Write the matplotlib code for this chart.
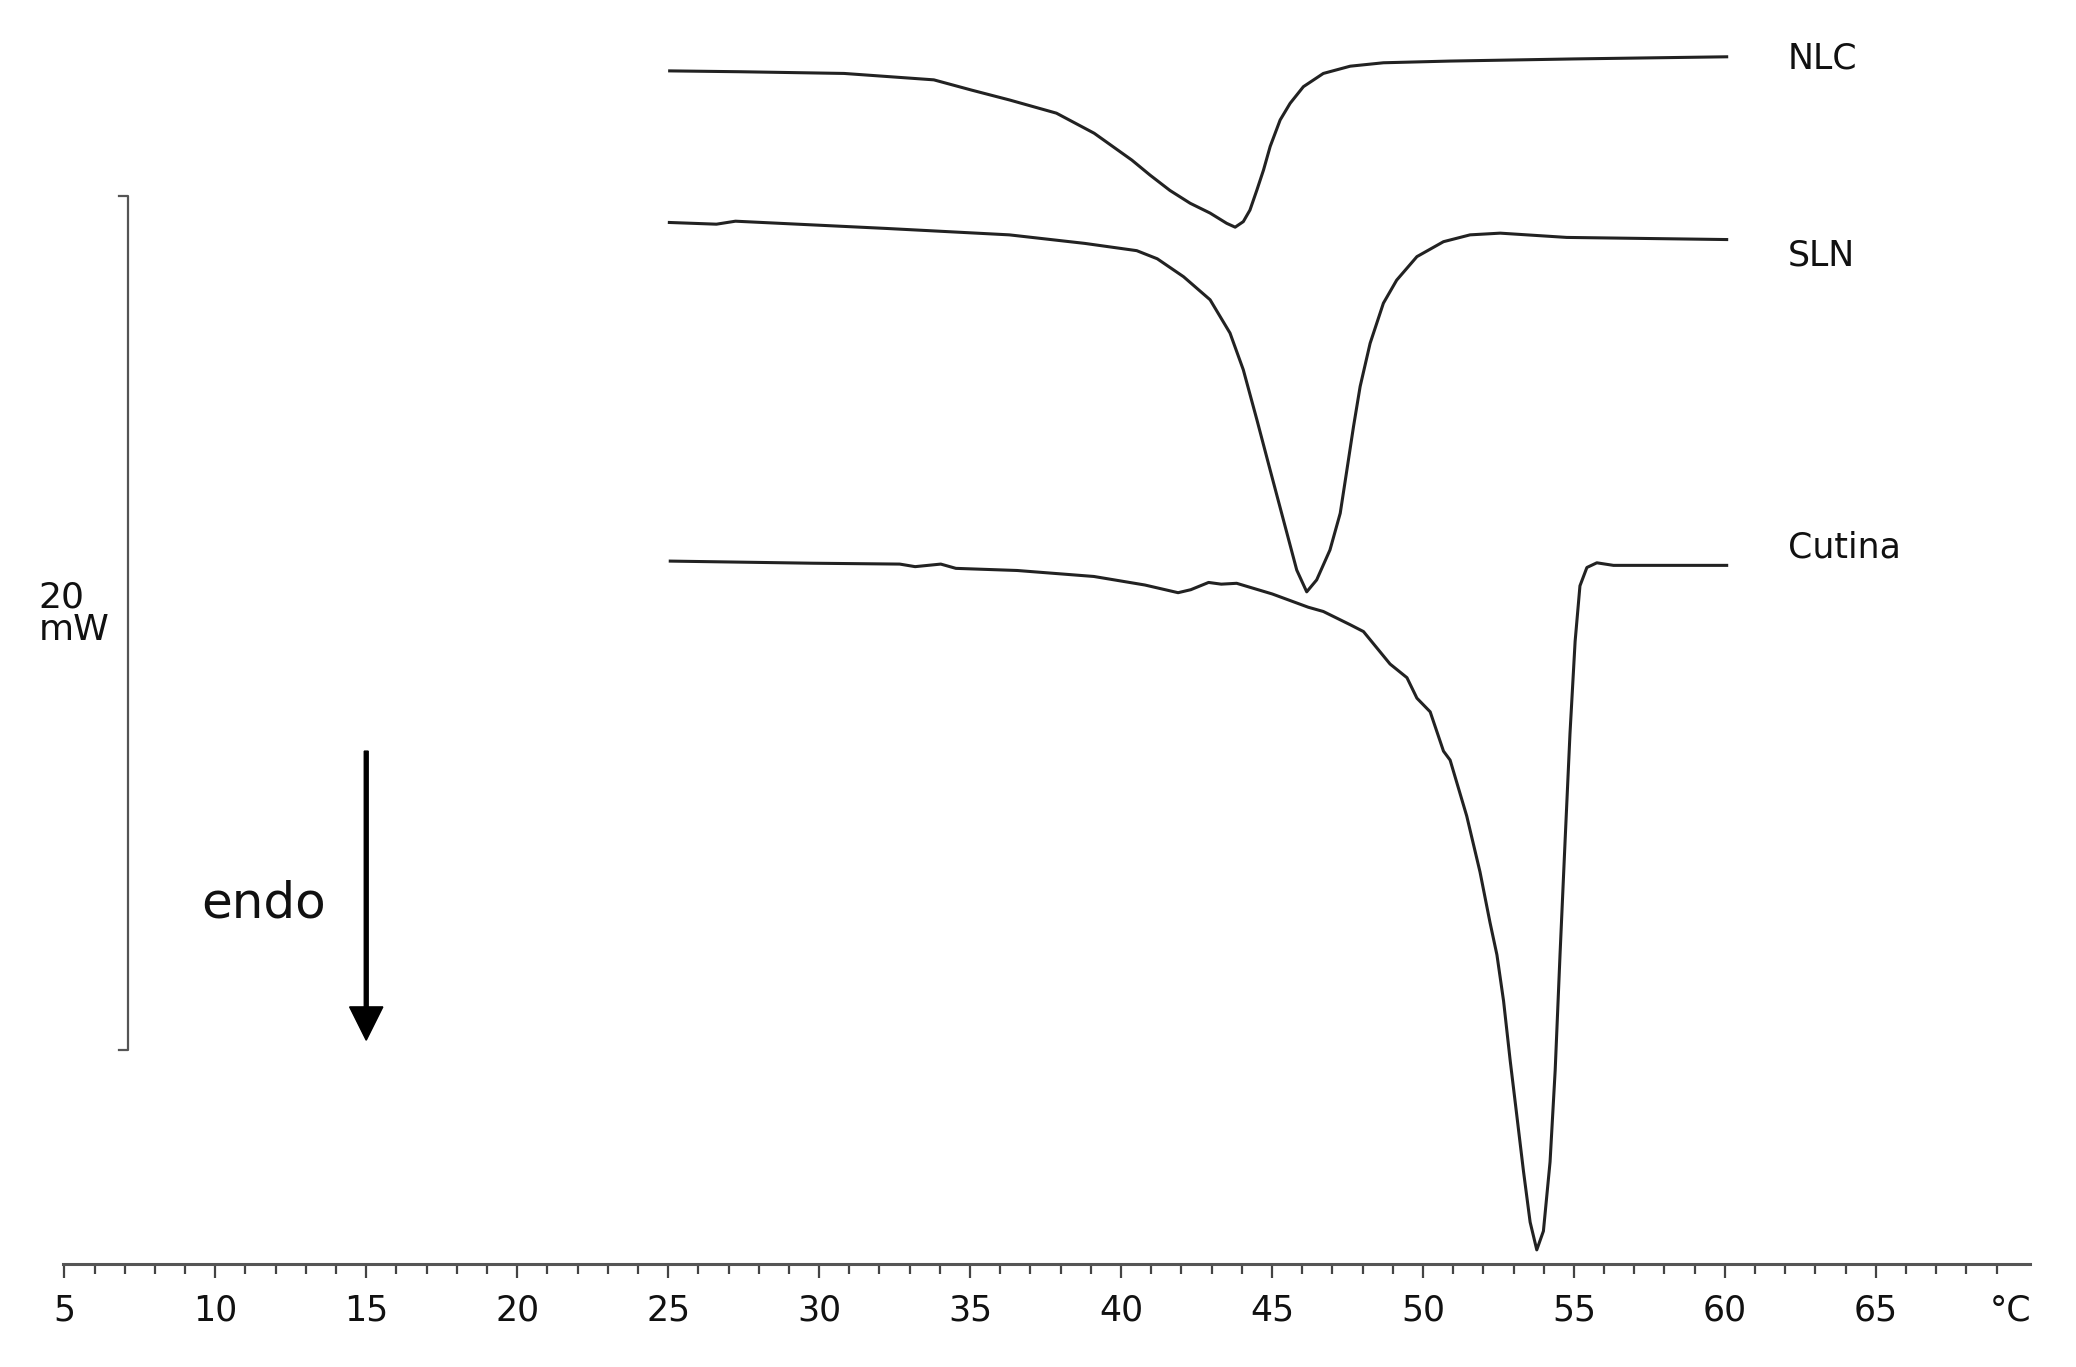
import numpy as np
import matplotlib.pyplot as plt

# DSC thermograms, x in degC, y in mW (arbitrary offset, 20 mW scale bar)
nlc_t = [25.05, 27.39, 30.83, 33.80, 35.05, 36.30, 37.86, 39.11, 40.36, 40.96, 41.62,
         42.29, 42.95, 43.50, 43.78, 44.05, 44.27, 44.50, 44.72, 44.94, 45.27, 45.60,
         46.04, 46.70, 47.59, 48.69, 50.90, 55.0, 60.06]
nlc_mw = [27.95, 27.93, 27.89, 27.74, 27.50, 27.27, 26.96, 26.49, 25.86, 25.51, 25.15,
          24.85, 24.62, 24.38, 24.29, 24.42, 24.69, 25.16, 25.63, 26.18, 26.80, 27.19,
          27.58, 27.89, 28.06, 28.14, 28.18, 28.23, 28.28]

sln_t = [25.04, 26.60, 27.23, 32.23, 36.30, 38.80, 40.52, 41.20, 42.07, 42.95, 43.61,
         44.05, 44.50, 44.94, 45.38, 45.82, 46.15, 46.48, 46.92, 47.26, 47.48, 47.70,
         47.92, 48.25, 48.69, 49.13, 49.80, 50.68, 51.56, 52.56, 54.76, 60.06]
sln_mw = [24.40, 24.36, 24.43, 24.26, 24.11, 23.91, 23.74, 23.55, 23.13, 22.59, 21.81,
          20.95, 19.78, 18.60, 17.43, 16.26, 15.75, 16.03, 16.73, 17.59, 18.60, 19.62,
          20.56, 21.57, 22.51, 23.05, 23.60, 23.95, 24.11, 24.15, 24.05, 24.00]

cut_t = [25.07, 29.80, 32.67, 33.18, 34.03, 34.53, 36.56, 39.10, 40.79, 41.89, 42.31,
         42.90, 43.32, 43.83, 45.01, 46.20, 46.70, 47.59, 48.03, 48.91, 49.47, 49.80,
         50.24, 50.68, 50.90, 51.45, 51.89, 52.22, 52.45, 52.67, 52.89, 53.11, 53.33,
         53.55, 53.77, 53.99, 54.21, 54.38, 54.54, 54.71, 54.87, 55.04, 55.20, 55.43,
         55.76, 56.31, 57.52, 60.06]
cut_mw = [16.47, 16.42, 16.40, 16.34, 16.40, 16.30, 16.25, 16.11, 15.91, 15.73, 15.80,
          15.97, 15.93, 15.95, 15.70, 15.39, 15.29, 14.98, 14.82, 14.06, 13.74, 13.26,
          12.94, 12.02, 11.81, 10.50, 9.19, 8.01, 7.25, 6.17, 4.77, 3.48, 2.18,
          0.99, 0.34, 0.78, 2.40, 4.55, 7.25, 9.95, 12.43, 14.59, 15.89, 16.32,
          16.43, 16.37, 16.37, 16.37]

curve_names = ["NLC", "SLN", "Cutina"]
label_mw = [28.01, 23.39, 16.55]

major_ticks = [5, 10, 15, 20, 25, 30, 35, 40, 45, 50, 55, 60, 65]
minor_ticks = [t for t in range(6, 70) if t % 5 != 0]

fig = plt.figure(figsize=(20.76, 13.67), dpi=100)
ax = fig.add_axes([0, 0, 1, 1])
ax.set_xlim(2.870, 71.63)
ax.set_ylim(-2.403, 29.61)

line_col = "#222222"
for t, y in [(nlc_t, nlc_mw), (sln_t, sln_mw), (cut_t, cut_mw)]:
    ax.plot(t, y, color=line_col, lw=2.2, solid_joinstyle="round")

for name, y in zip(curve_names, label_mw):
    ax.text(62.08, y, name, fontsize=25, ha="left", va="baseline", color="#111111")

# x axis as a bottom spine through y=0
for s in ["left", "right", "top"]:
    ax.spines[s].set_visible(False)
ax.spines["bottom"].set_position(("data", 0))
ax.spines["bottom"].set_bounds(4.97, 70.1)
ax.spines["bottom"].set_color("#555555")
ax.spines["bottom"].set_linewidth(2.2)

ax.set_xticks(major_ticks + [69.45])
ax.set_xticklabels([str(t) for t in major_ticks] + ["°C"])
ax.set_xticks(minor_ticks, minor=True)
ax.tick_params(axis="x", which="major", direction="out", length=10, width=1.6,
               color="#444444", labelsize=25, pad=11, labelcolor="#111111")
ax.tick_params(axis="x", which="minor", direction="out", length=7, width=1.6,
               color="#444444")
ax.xaxis.get_major_ticks()[-1].tick1line.set_visible(False)
ax.set_yticks([])

# 20 mW scale bar
ax.plot([6.81, 7.11, 7.11, 6.81], [25.02, 25.02, 5.02, 5.02], color="#555555", lw=1.6)
ax.text(4.14, 15.38, "20", fontsize=26, ha="left", va="baseline", color="#111111")
ax.text(4.14, 14.62, "mW", fontsize=26, ha="left", va="baseline", color="#111111")

# endo arrow
ax.text(9.53, 8.13, "endo", fontsize=36, ha="left", va="baseline", color="#111111")
ax.arrow(15, 12.02, 0, 5.25 - 12.02, width=0.13, head_width=1.1, head_length=0.78,
         length_includes_head=True, color="black")

fig.savefig("out.png", dpi=100)
